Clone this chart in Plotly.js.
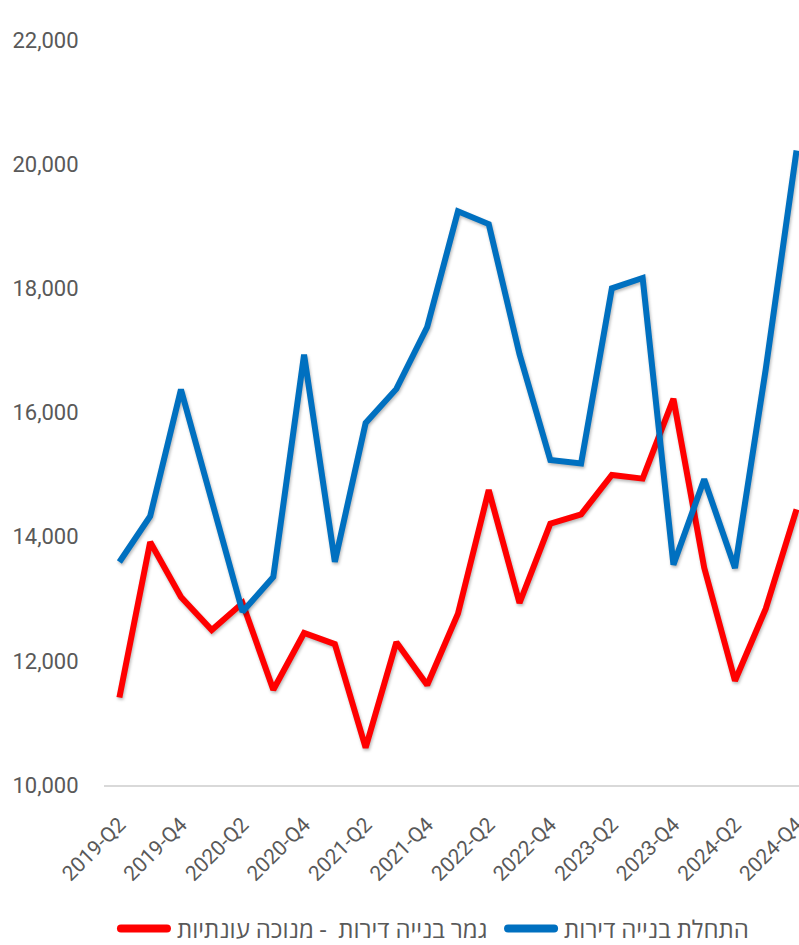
<!DOCTYPE html>
<html>
<head>
<meta charset="utf-8">
<script src="https://cdn.plot.ly/plotly-3.0.1.min.js"></script>
<style>
html,body{margin:0;padding:0;background:#fff;}
#chart{width:799px;height:945px;}
.scatterlayer .js-line{filter:drop-shadow(1px 2px 1.5px rgba(0,0,0,0.28));}
</style>
</head>
<body>
<div id="chart"></div>
<script>
const quarters = ["2019-Q2","2019-Q3","2019-Q4","2020-Q1","2020-Q2","2020-Q3","2020-Q4",
  "2021-Q1","2021-Q2","2021-Q3","2021-Q4","2022-Q1","2022-Q2","2022-Q3","2022-Q4",
  "2023-Q1","2023-Q2","2023-Q3","2023-Q4","2024-Q1","2024-Q2","2024-Q3","2024-Q4"];

const completionsName = "גמר בנייה דירות  - מנוכה עונתיות";
const completions = [11410, 13914, 13028, 12497, 12930, 11535, 12448,
  12270, 10600, 12300, 11611, 12760, 14750, 12932, 14210,
  14360, 14994, 14935, 16220, 13500, 11680, 12840, 14440];

const startsName = "התחלת בנייה דירות";
const starts = [13592, 14330, 16370, 14570, 12790, 13350, 16930,
  13595, 15831, 16380, 17377, 19240, 19035, 16940, 15235,
  15180, 18000, 18167, 13547, 14925, 13496, 16700, 20220];

const yTicks = [10000, 12000, 14000, 16000, 18000, 20000, 22000];

const FONT = "Roboto, 'Open Sans', 'Noto Sans', sans-serif";
const GREY = "#595959";

const data = [
  {x: quarters, y: completions, name: completionsName, type: "scatter", mode: "lines",
   line: {color: "#FF0000", width: 6}, legend: "legend"},
  {x: quarters, y: starts, name: startsName, type: "scatter", mode: "lines",
   line: {color: "#0070C0", width: 6}, legend: "legend2"}
];

const legendBase = {
  orientation: "h",
  xanchor: "left",
  y: -0.163, yanchor: "top",
  itemwidth: 56,
  font: {family: FONT, color: GREY, size: 24},
  bgcolor: "rgba(0,0,0,0)"
};

const layout = {
  width: 799, height: 945,
  margin: {l: 104, r: 0, t: 40, b: 160, autoexpand: false},
  paper_bgcolor: "#ffffff", plot_bgcolor: "#ffffff",
  font: {family: FONT, color: GREY, size: 21},
  showlegend: true,
  hovermode: false,
  xaxis: {
    type: "category",
    range: [-0.5, 22.08],
    tickmode: "linear", tick0: 0, dtick: 2,
    tickangle: -45,
    ticks: "outside", ticklen: 17, tickcolor: "rgba(0,0,0,0)",
    showgrid: false, zeroline: false, automargin: false,
    showline: true, linecolor: "#d9d9d9", linewidth: 2,
    tickfont: {family: FONT, color: GREY, size: 21}
  },
  yaxis: {
    range: [10000, 22000],
    tickmode: "array", tickvals: yTicks,
    tickformat: ",d",
    ticks: "outside", ticklen: 20, tickcolor: "rgba(0,0,0,0)",
    showgrid: false, zeroline: false, showline: false, automargin: false,
    tickfont: {family: FONT, color: GREY, size: 22}
  },
  legend: Object.assign({}, legendBase, {x: 0.010}),
  legend2: Object.assign({}, legendBase, {x: 0.567})
};

Plotly.newPlot("chart", data, layout, {displayModeBar: false, staticPlot: true}).then(function () {
  // lengthen legend line samples and round their caps, like the reference
  document.querySelectorAll(".legendlines path").forEach(function (p) {
    p.setAttribute("d", "M10,0h46");
    p.style.strokeLinecap = "round";
    p.style.strokeWidth = "8px";
  });
});
</script>
</body>
</html>
